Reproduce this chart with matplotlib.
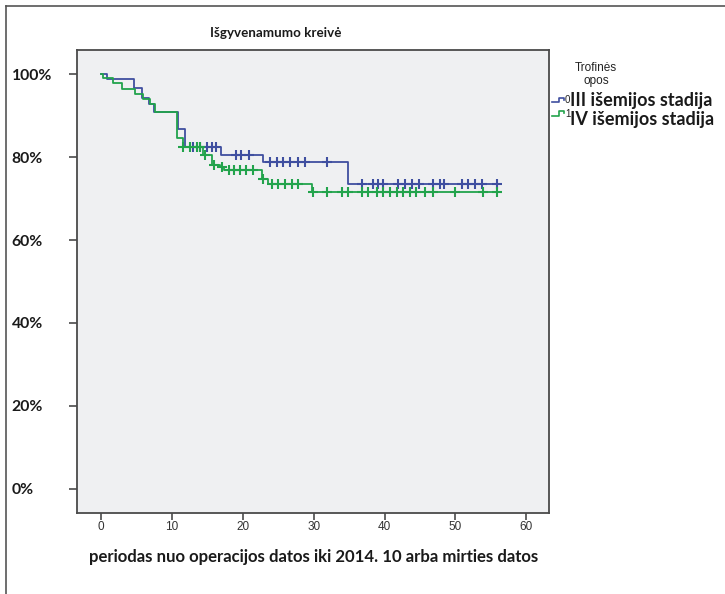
import numpy as np
import matplotlib
matplotlib.use("Agg")
import matplotlib.pyplot as plt
from matplotlib.lines import Line2D

# Kaplan-Meier survival steps (time in months, survival in %)
stage3_times = [0.0, 0.9, 4.7, 5.8, 6.8, 7.5, 10.8, 11.8, 16.9, 22.8, 34.8]
stage3_surv = [100.0, 98.9, 96.6, 94.2, 92.9, 90.9, 86.8, 82.5, 80.4, 78.8, 73.4]
stage3_end = 56.0
stage3_censored = [13.0, 14.0, 14.9, 15.6, 16.2, 19.0, 19.7, 20.9,
                   23.8, 24.8, 25.7, 26.7, 27.8, 28.8, 31.9,
                   36.8, 38.4, 39.1, 39.8, 41.9, 42.9, 43.8, 44.8,
                   46.8, 47.8, 48.4, 50.9, 51.8, 52.8, 53.7, 55.9]

stage4_times = [0.0, 0.2, 1.7, 2.9, 4.8, 5.9, 6.9, 7.6, 10.7, 11.5,
                14.4, 15.7, 16.8, 17.3, 22.7, 23.5, 29.7]
stage4_surv = [100.0, 99.0, 97.9, 96.5, 95.2, 94.0, 92.8, 90.9, 84.6, 82.5,
               80.5, 78.2, 77.5, 76.8, 74.8, 73.5, 71.6]
stage4_end = 55.8
stage4_censored = [11.6, 12.6, 13.5, 14.0, 14.7, 15.9, 17.0,
                   18.0, 18.7, 19.6, 20.5, 21.5, 22.9,
                   24.1, 25.0, 26.0, 26.9, 27.8,
                   29.9, 31.9, 34.0, 34.9, 36.8, 37.7, 38.9, 39.8, 40.8,
                   41.7, 42.6, 43.6, 44.5, 45.7, 46.9, 49.9, 53.9, 55.8]

y_ticks = [0, 20, 40, 60, 80, 100]
y_labels = ["0%", "20%", "40%", "60%", "80%", "100%"]
x_ticks = [0, 10, 20, 30, 40, 50, 60]

group_labels = ["III išemijos stadija", "IV išemijos stadija"]
group_codes = ["0", "1"]

BLUE = "#3F4FA0"
GREEN = "#22A34C"
BOLD_FONT = ["Lato", "DejaVu Sans"]

W, H = 725, 594
fig = plt.figure(figsize=(W / 100, H / 100), dpi=100)
fig.patch.set_facecolor("white")


def fx(px):
    return px / W


def fy(py):
    return 1 - py / H


ax = fig.add_axes([fx(77), fy(513), fx(549) - fx(77), fy(50) - fy(513)])
ax.set_facecolor("#EFF0F2")
for s in ax.spines.values():
    s.set_color("#4a4a4a")
    s.set_linewidth(1.3)


def km_curve(times, surv, end, censored, color):
    t = list(times) + [end]
    s = list(surv) + [surv[-1]]
    ax.step(t, s, where="post", color=color, lw=1.3, zorder=3)
    idx = np.searchsorted(np.array(times), np.array(censored), side="right") - 1
    levels = np.array(surv)[idx]
    ax.plot(censored, levels, ls="none", marker="+", ms=7, mew=1.5,
            color=color, zorder=4)


km_curve(stage3_times, stage3_surv, stage3_end, stage3_censored, BLUE)
km_curve(stage4_times, stage4_surv, stage4_end, stage4_censored, GREEN)

ax.set_xlim(-3.4, 63.2)
ax.set_ylim(-5.8, 105.8)

ax.set_xticks(x_ticks)
ax.set_xticklabels([str(v) for v in x_ticks], fontsize=8.5,
                   family=["Liberation Sans"], color="#333333")
ax.tick_params(axis="x", direction="out", length=5, width=1.2,
               color="#4a4a4a", pad=1)

ax.set_yticks(y_ticks)
ax.set_yticklabels(y_labels, fontsize=11.3, family=BOLD_FONT,
                   fontweight="bold", color="#1a1a1a")
for lab in ax.get_yticklabels():
    lab.set_horizontalalignment("left")
ax.tick_params(axis="y", direction="out", length=6, width=1.2,
               color="#4a4a4a", pad=41)

# Title and axis caption
fig.text(fx(276), fy(33), "Išgyvenamumo kreivė", ha="center", va="center",
         fontsize=9.6, fontweight="bold", family=BOLD_FONT, color="#1a1a1a")
fig.text(fx(314), fy(557),
         "periodas nuo operacijos datos iki 2014. 10 arba mirties datos",
         ha="center", va="center", fontsize=12.1, fontweight="bold",
         family=BOLD_FONT, color="#1a1a1a")

# Legend
fig.text(fx(596), fy(68), "Trofinės", ha="center", va="center",
         fontsize=8.5, family=["Liberation Sans"], color="#222222")
fig.text(fx(596), fy(81), "opos", ha="center", va="center",
         fontsize=8.5, family=["Liberation Sans"], color="#222222")

legend_rows = [(102.3, BLUE), (115.7, GREEN)]
label_centres = [100.5, 119.5]
for (base, color), yc, code, label in zip(legend_rows, label_centres,
                                          group_codes, group_labels):
    xs = [552, 558.5, 558.5, 564, 564]
    ys = [base, base, base - 4.7, base - 4.7, base - 2.5]
    fig.add_artist(Line2D([fx(v) for v in xs], [fy(v) for v in ys],
                          color=color, lw=1.2))
    fig.text(fx(565), fy(base - 2), code, ha="left", va="center",
             fontsize=7, family=["Liberation Sans"], color="#222222")
    fig.text(fx(569.5), fy(yc), label, ha="left", va="center",
             fontsize=13, fontweight="bold", family=BOLD_FONT,
             color="#1a1a1a")

# Frame lines along the top and left edges
fig.add_artist(Line2D([fx(6), fx(6)], [fy(6), fy(594)], color="#555555", lw=1.2))
fig.add_artist(Line2D([fx(6), fx(725)], [fy(6), fy(6)], color="#555555", lw=1.2))

fig.savefig("out.png", dpi=100)
